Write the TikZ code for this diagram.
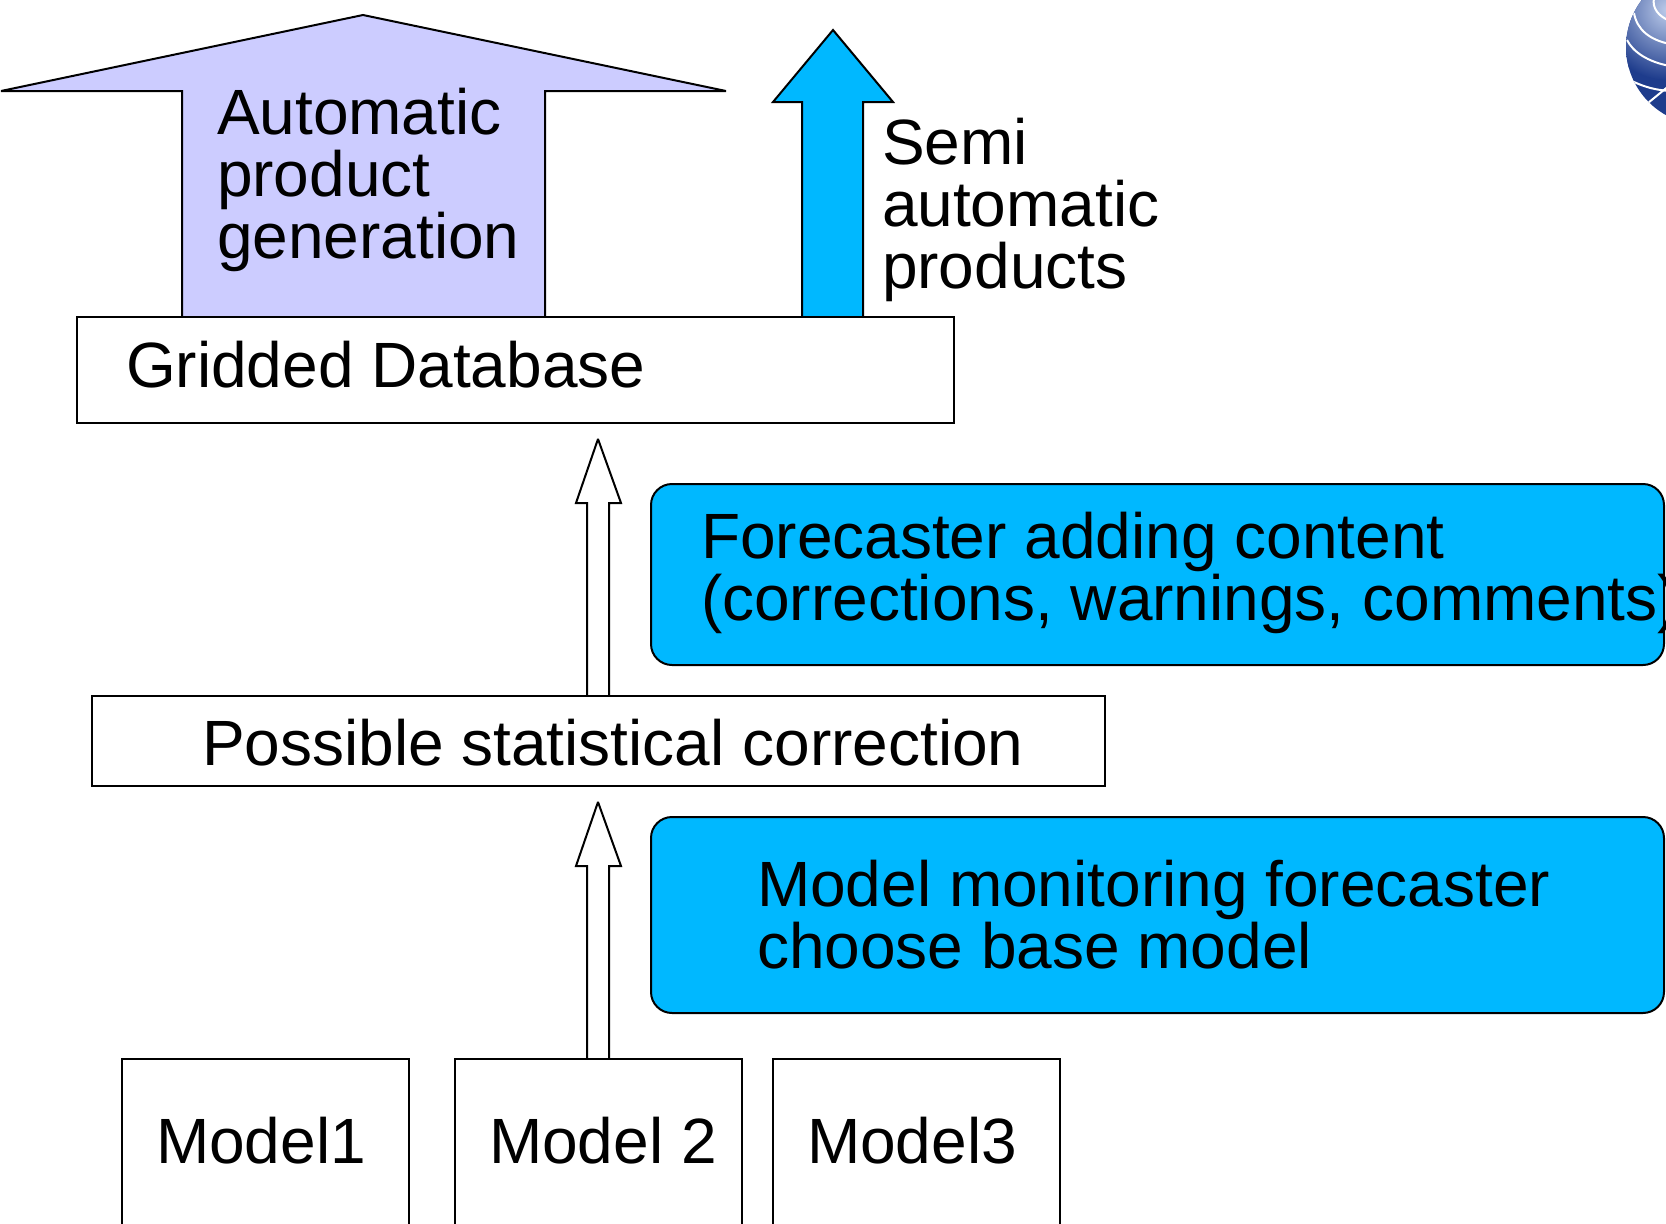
\documentclass[tikz,border=0pt]{standalone}
\usepackage{fontspec}
\setmainfont{Liberation Sans}
\definecolor{skyfill}{RGB}{0,184,255}
\definecolor{lilac}{RGB}{204,204,255}
\definecolor{globeblue}{RGB}{30,60,140}
\definecolor{globelight}{RGB}{190,205,235}
\tikzset{
  x=1pt,y=-1pt,
  plainbox/.style={draw=black,line width=2pt,fill=white,rectangle,anchor=north west,inner sep=0pt,outer sep=0pt},
  bluebox/.style={draw=black,line width=2pt,fill=skyfill,rectangle,rounded corners=21pt,anchor=north west,inner sep=0pt,outer sep=0pt},
  blockarrow/.style={draw=black,line width=2pt,line join=miter,miter limit=3},
  label/.style={anchor=base west,inner sep=0pt,outer sep=0pt,align=left,text=black,font=\fontsize{64pt}{61.6pt}\selectfont},
  globeline/.style={white,line width=2pt},
}
\begin{document}
\begin{tikzpicture}
\useasboundingbox (0,0) rectangle (1666,1224);
\clip (0,0) rectangle (1666,1224);
\fill[white] (0,0) rectangle (1666,1224);
% globe
\begin{scope}
\clip (1704,47) circle (78);
\fill[globeblue] (1620,-35) rectangle (1790,130);
\shade[inner color=globelight,outer color=globeblue] (1668,10) circle (70);
\draw[globeline] (1634,13) .. controls (1637,30) and (1650,40) .. (1670,44);
\draw[globeline] (1627,40) .. controls (1633,52) and (1648,62) .. (1670,66);
\draw[globeline] (1634,82) .. controls (1645,87) and (1655,90) .. (1670,91);
\draw[globeline] (1648,103) -- (1670,85);
\draw[globeline] (1654,-2) .. controls (1652,8) and (1658,16) .. (1670,21);
\end{scope}
% block arrows
\draw[blockarrow,fill=lilac] (182,318) -- (182,91) -- (1,91) -- (363,15) -- (726,91) -- (545,91) -- (545,318) -- cycle;
\draw[blockarrow,fill=skyfill] (802,318) -- (802,102) -- (773,102) -- (833,30) -- (893,102) -- (863,102) -- (863,318) -- cycle;
\draw[blockarrow,fill=white] (587,696) -- (587,503) -- (576,503) -- (598,439) -- (621,503) -- (609,503) -- (609,696) -- cycle;
\draw[blockarrow,fill=white] (587,1059) -- (587,866) -- (576,866) -- (598,802) -- (621,866) -- (609,866) -- (609,1059) -- cycle;
% boxes
\node[plainbox,minimum width=877pt,minimum height=106pt] (grid) at (77,317) {};
\node[plainbox,minimum width=1013pt,minimum height=90pt] (stat) at (92,696) {};
\node[bluebox,minimum width=1013pt,minimum height=181pt] (fc) at (651,484) {};
\node[bluebox,minimum width=1013pt,minimum height=196pt] (mm) at (651,817) {};
\node[plainbox,minimum width=287pt,minimum height=200pt] (m1) at (122,1059) {};
\node[plainbox,minimum width=287pt,minimum height=200pt] (m2) at (455,1059) {};
\node[plainbox,minimum width=287pt,minimum height=200pt] (m3) at (773,1059) {};
% texts
\node[label] (t1) at (217,258) {Automatic\\product\\generation};
\node[label] (t2) at (882,288) {Semi\\automatic\\products};
\node[label] (t3) at (126,387) {Gridded Database};
\node[label] (t4) at (701,620) {Forecaster adding content\\(corrections, warnings, comments)};
\node[label] (t5) at (202,765) {Possible statistical correction};
\node[label] (t6) at (757,968) {Model monitoring forecaster\\choose base model};
\node[label] (t7) at (156,1163) {Model1};
\node[label] (t8) at (489,1163) {Model 2};
\node[label] (t9) at (807,1163) {Model3};
\end{tikzpicture}
\end{document}
